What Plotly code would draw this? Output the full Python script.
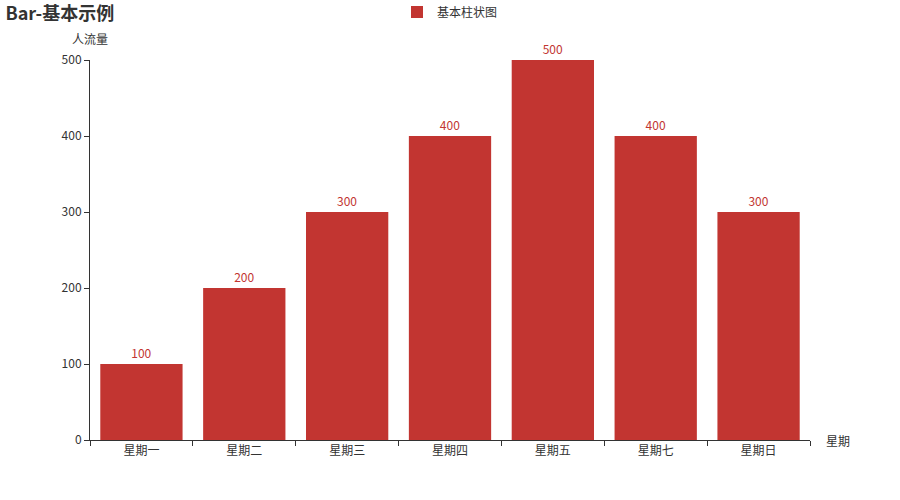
import plotly.graph_objects as go

categories = ["星期一", "星期二", "星期三", "星期四", "星期五", "星期七", "星期日"]
values = [100, 200, 300, 400, 500, 400, 300]
series_name = "基本柱状图"
y_ticks = [0, 100, 200, 300, 400, 500]

FONT = "Noto Sans CJK SC, Microsoft YaHei, sans-serif"
RED = "#c23531"

fig = go.Figure()
fig.add_trace(go.Bar(
    x=categories, y=values, name=series_name,
    marker=dict(color=RED, line=dict(width=0)),
    text=[str(v) for v in values], textposition="outside",
    textfont=dict(color=RED, size=12, family=FONT),
    cliponaxis=False,
))

fig.update_layout(
    width=900, height=500,
    margin=dict(l=90, r=90, t=60, b=60),
    plot_bgcolor="white", paper_bgcolor="white",
    font=dict(family=FONT, size=12, color="#333"),
    bargap=0.2,
    showlegend=True,
    title=dict(text="<b>Bar-基本示例</b>", x=0.006, xanchor="left", y=0.972, yanchor="middle",
               font=dict(size=18, color="#333", family=FONT)),
    legend=dict(orientation="h", x=0.5, xanchor="center", y=0.976, yanchor="middle",
                yref="container", font=dict(size=12, color="#333")),
    xaxis=dict(
        type="category", showline=True, linecolor="#333", linewidth=1,
        ticks="outside", tickson="boundaries", ticklen=5, tickcolor="#333",
        showgrid=False, tickfont=dict(size=12, color="#333"),
    ),
    yaxis=dict(
        range=[0, 500], tickvals=y_ticks, showline=True, linecolor="#333", linewidth=1,
        ticks="outside", ticklen=5, tickcolor="#333", showgrid=False, zeroline=False,
        tickfont=dict(size=12, color="#333"),
    ),
    annotations=[
        dict(text="人流量", x=0, xref="paper", y=1, yref="paper", xanchor="center",
             yanchor="bottom", yshift=11, showarrow=False, font=dict(size=12, color="#333")),
        dict(text="星期", x=1, xref="paper", y=0, yref="paper", xanchor="left",
             yanchor="middle", xshift=14, showarrow=False, font=dict(size=12, color="#333")),
    ],
)

fig.write_html("out.html", config={"displayModeBar": False},
               post_script="document.body.style.margin='0';")
